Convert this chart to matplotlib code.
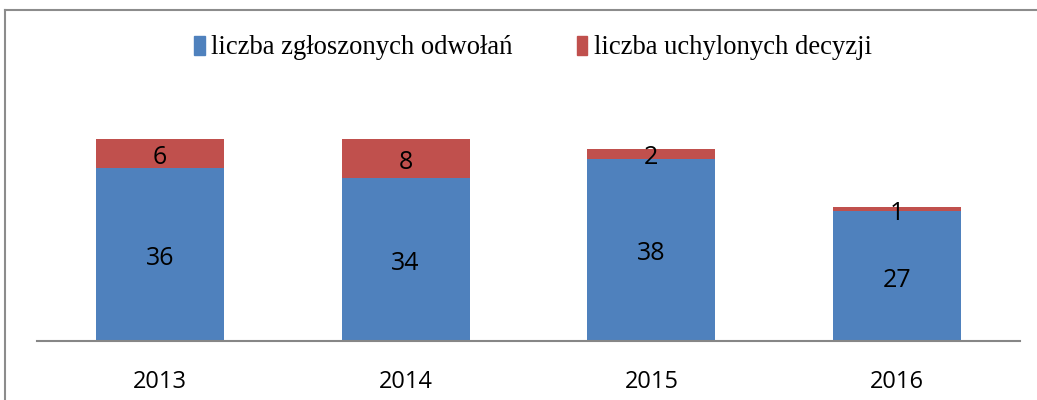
import matplotlib
matplotlib.use("Agg")
import matplotlib.pyplot as plt
from matplotlib.lines import Line2D
from matplotlib.patches import Patch
import matplotlib.transforms as mtrans

years = ["2013", "2014", "2015", "2016"]
appeals = [36, 34, 38, 27]
overturned = [6, 8, 2, 1]
series_names = ["liczba zgłoszonych odwołań", "liczba uchylonych decyzji"]

blue = "#4F81BD"
red = "#C0504D"

W, H = 1037, 400
fig = plt.figure(figsize=(W / 100, H / 100), dpi=100)

# outer chart frame (cropped on right and bottom)
fig.add_artist(Line2D([5 / W, 5 / W], [0, 1 - 9.5 / H], transform=fig.transFigure,
                      color="#8c8c8c", linewidth=1.5))
fig.add_artist(Line2D([5 / W, 1.01], [1 - 9.5 / H, 1 - 9.5 / H], transform=fig.transFigure,
                      color="#8c8c8c", linewidth=1.5))

ax = fig.add_axes([37 / W, 59 / H, (1020 - 37) / W, 216 / H])
x = list(range(len(years)))
ax.bar(x, appeals, width=0.52, color=blue, label=series_names[0])
ax.bar(x, overturned, width=0.52, bottom=appeals, color=red, label=series_names[1])
ax.set_xlim(-0.5, len(years) - 0.5)
ax.set_ylim(0, 45)

lab_font = "Open Sans"
off = mtrans.offset_copy(ax.transData, fig=fig, x=0, y=-4, units="dots")
for i in x:
    ax.text(i, appeals[i] / 2, str(appeals[i]), ha="center", va="center",
            fontsize=18, family=lab_font, transform=off)
    ax.text(i, appeals[i] + overturned[i] / 2, str(overturned[i]), ha="center",
            va="center", fontsize=18, family=lab_font, transform=off)

for s in ["top", "right", "left"]:
    ax.spines[s].set_visible(False)
ax.spines["bottom"].set_color("#868686")
ax.spines["bottom"].set_linewidth(1.5)
ax.set_yticks([])
ax.set_xticks(x)
ax.set_xticklabels(years, fontsize=17, family=lab_font)
ax.tick_params(axis="x", length=0, pad=21)

handles = [Patch(color=blue), Patch(color=red)]
fig.legend(handles, series_names, loc="center", ncol=2,
           bbox_to_anchor=(533 / W, 1 - 48 / H), frameon=False,
           prop={"family": "Liberation Serif", "size": 19.2},
           handlelength=0.4, handleheight=0.7, handletextpad=0.25,
           columnspacing=2.4)

fig.savefig("out.png", dpi=100)
